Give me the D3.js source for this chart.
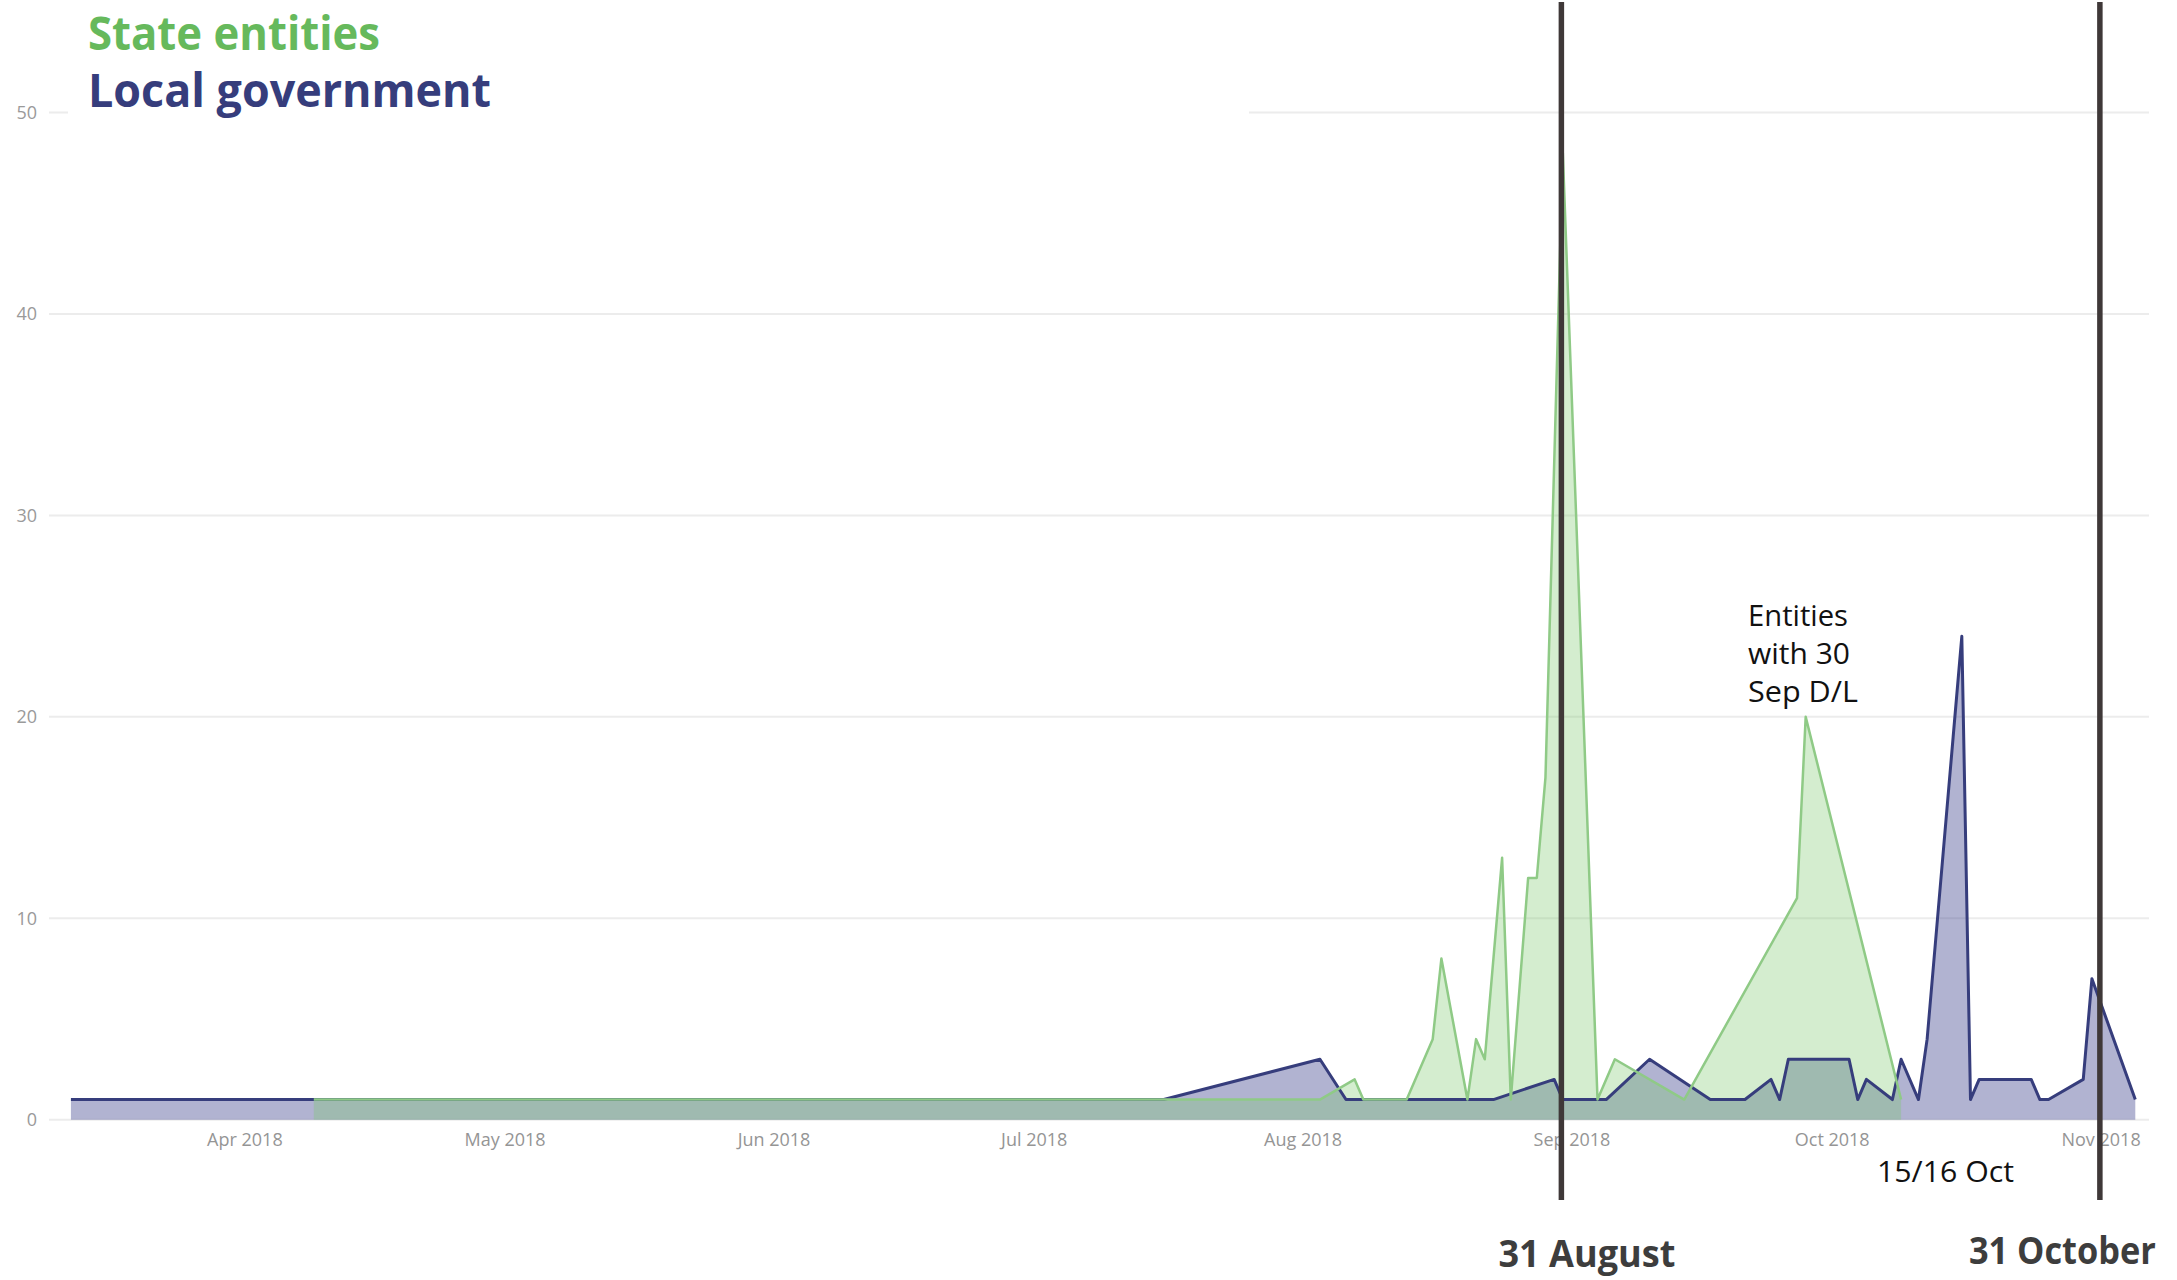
<!DOCTYPE html>
<html>
<head>
<meta charset="utf-8">
<script src="https://cdn.jsdelivr.net/npm/d3@7"></script>
<style>
  html, body { margin: 0; padding: 0; background: #fff; }
  svg { display: block; font-family: "Open Sans", "Segoe UI", sans-serif; }
</style>
</head>
<body>
<svg id="chart" width="2177" height="1280"></svg>
<script>
// Daily submission counts, state entities
const stateDates = ["2018-04-09","2018-08-03","2018-08-07","2018-08-08","2018-08-13","2018-08-16","2018-08-17",
  "2018-08-20","2018-08-21","2018-08-22","2018-08-24","2018-08-25","2018-08-27","2018-08-28","2018-08-29",
  "2018-08-31","2018-09-04","2018-09-06","2018-09-14","2018-09-27","2018-09-28","2018-10-09"];
const stateValues = [1,1,2,1,1,4,8,1,4,3,13,1,12,12,17,48,1,3,1,11,20,1];

// Daily submission counts, local government
const localDates = ["2018-03-12","2018-07-16","2018-08-03","2018-08-06","2018-08-23","2018-08-30","2018-08-31",
  "2018-09-05","2018-09-10","2018-09-17","2018-09-21","2018-09-24","2018-09-25","2018-09-26","2018-10-03",
  "2018-10-04","2018-10-05","2018-10-08","2018-10-09","2018-10-11","2018-10-12","2018-10-15","2018-10-16",
  "2018-10-17","2018-10-18","2018-10-24","2018-10-25","2018-10-26","2018-10-30","2018-10-31","2018-11-05"];
const localValues = [1,1,3,1,1,2,1,1,3,1,1,2,1,3,3,1,2,1,3,1,4,19,24,1,2,2,1,1,2,7,1];

const yTicks = [0, 10, 20, 30, 40, 50];
const seriesNames = ["State entities", "Local government"];
const markerTimes = ["2018-08-30T20:00", "2018-10-31T22:00"];
const markerLabels = ["31 August", "31 October"];
const noteLines = ["Entities", "with 30", "Sep D/L"];
const peakNote = "15/16 Oct";

const parseDay = d3.utcParse("%Y-%m-%d");
const parseTime = d3.utcParse("%Y-%m-%dT%H:%M");

const stateData = stateDates.map((d, i) => ({ date: parseDay(d), value: stateValues[i] }));
const localData = localDates.map((d, i) => ({ date: parseDay(d), value: localValues[i] }));

const svg = d3.select("#chart");

const x = d3.scaleUtc()
  .domain([parseDay("2018-04-01"), parseDay("2018-11-01")])
  .range([244.4, 2100.6]);
const y = d3.scaleLinear().domain([0, 50]).range([1119.7, 112.6]);

// horizontal gridlines
svg.append("g").selectAll("line").data(yTicks).join("line")
  .attr("x1", 49).attr("x2", 2149)
  .attr("y1", d => y(d)).attr("y2", d => y(d))
  .attr("stroke", "#ececec").attr("stroke-width", 2);

// y tick labels
svg.append("g").selectAll("text").data(yTicks).join("text")
  .attr("x", 37).attr("y", d => y(d))
  .attr("dy", "0.35em")
  .attr("text-anchor", "end")
  .attr("fill", "#9a9a9a")
  .attr("font-size", 18)
  .text(d => d);

// x axis (monthly)
const xAxis = d3.axisBottom(x)
  .ticks(d3.utcMonth.every(1))
  .tickFormat(d3.utcFormat("%b %Y"))
  .tickSize(0)
  .tickPadding(14);
const gx = svg.append("g").attr("transform", `translate(0,${y(0)})`).call(xAxis);
gx.select(".domain").remove();
gx.selectAll("text")
  .attr("fill", "#959595")
  .attr("font-size", 18)
  .attr("font-family", "\"Open Sans\", \"Segoe UI\", sans-serif");

const area = d3.area()
  .x(d => x(d.date))
  .y0(y(0))
  .y1(d => y(d.value));
const line = d3.line()
  .x(d => x(d.date))
  .y(d => y(d.value));

// filled areas
svg.append("path").datum(localData)
  .attr("d", area)
  .attr("fill", "rgba(60,64,140,0.4)");
svg.append("path").datum(stateData)
  .attr("d", area)
  .attr("fill", "rgba(125,200,110,0.33)");

// outlines
svg.append("path").datum(localData)
  .attr("d", line)
  .attr("fill", "none")
  .attr("stroke", "#363d7c")
  .attr("stroke-width", 3)
  .attr("stroke-linejoin", "round");
svg.append("path").datum(stateData)
  .attr("d", line)
  .attr("fill", "none")
  .attr("stroke", "#8fca86")
  .attr("stroke-width", 2.5)
  .attr("stroke-linejoin", "round");

// deadline markers
const markers = markerTimes.map((t, i) => ({ date: parseTime(t), label: markerLabels[i] }));
svg.append("g").selectAll("line").data(markers).join("line")
  .attr("x1", d => x(d.date)).attr("x2", d => x(d.date))
  .attr("y1", 2).attr("y2", 1200)
  .attr("stroke", "#3f3838")
  .attr("stroke-width", 5.5);

const markerOffsets = [-63, -131];
const markerBaselines = [1267, 1264];
const markerWidths = [177, 187];
svg.append("g").selectAll("text").data(markers).join("text")
  .attr("x", (d, i) => x(d.date) + markerOffsets[i])
  .attr("y", (d, i) => markerBaselines[i])
  .attr("font-size", 37)
  .attr("font-weight", 700)
  .attr("fill", "#3d3d3d")
  .attr("textLength", (d, i) => markerWidths[i])
  .attr("lengthAdjust", "spacingAndGlyphs")
  .text(d => d.label);

// annotations
const noteWidths = [100, 102, 110];
svg.append("g").selectAll("text").data(noteLines).join("text")
  .attr("x", 1748)
  .attr("y", (d, i) => 626 + i * 38)
  .attr("font-size", 29)
  .attr("fill", "#111")
  .attr("textLength", (d, i) => noteWidths[i])
  .attr("lengthAdjust", "spacingAndGlyphs")
  .text(d => d);
svg.append("text")
  .attr("x", 1877).attr("y", 1182)
  .attr("font-size", 30)
  .attr("fill", "#111")
  .attr("textLength", 137)
  .attr("lengthAdjust", "spacingAndGlyphs")
  .text(peakNote);

// legend
svg.append("rect")
  .attr("x", 68).attr("y", 0)
  .attr("width", 1181).attr("height", 122)
  .attr("fill", "#fff");
const legendColors = ["#66b95c", "#363d7c"];
const legendBaselines = [49.5, 107];
const legendSizes = [46, 47];
const legendWidths = [292, 403];
svg.append("g").selectAll("text").data(seriesNames).join("text")
  .attr("x", 88)
  .attr("y", (d, i) => legendBaselines[i])
  .attr("font-size", (d, i) => legendSizes[i])
  .attr("font-weight", 700)
  .attr("fill", (d, i) => legendColors[i])
  .attr("textLength", (d, i) => legendWidths[i])
  .attr("lengthAdjust", "spacingAndGlyphs")
  .text(d => d);
</script>
</body>
</html>
